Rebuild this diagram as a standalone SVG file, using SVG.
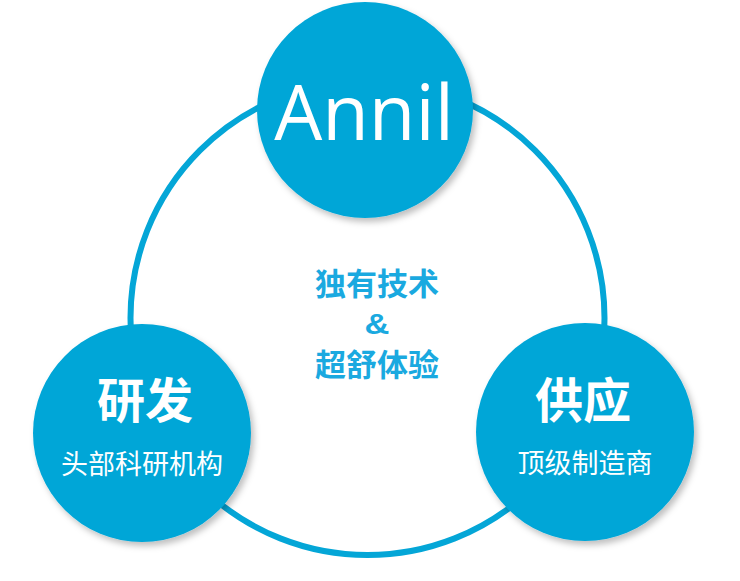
<svg xmlns="http://www.w3.org/2000/svg" width="740" height="581" viewBox="0 0 740 581">
<defs>
<filter id="sh" x="-20%" y="-20%" width="150%" height="150%">
<feDropShadow dx="3" dy="4" stdDeviation="3" flood-color="#000" flood-opacity="0.25"/>
</filter>
<style>
.node{fill:#04a6d7;filter:url(#sh)}
.ring{fill:none;stroke:#04a6d7;stroke-width:6}
.cjk{font-family:"Noto Sans CJK SC","Noto Sans",sans-serif;text-anchor:middle}
.title{font-size:48px;font-weight:bold;fill:#fff}
.sub{font-size:27px;fill:#fff}
.mid{font-size:31px;font-weight:bold;fill:#1aa9e0}
.amp{font-family:"Liberation Sans",Arial,sans-serif;font-size:30px;font-weight:bold;fill:#1aa9e0;text-anchor:middle}
</style>
</defs>
<rect width="740" height="581" fill="#fff"/>
<g id="connectors">
<circle class="ring" cx="367.5" cy="318" r="237"/>
</g>
<g id="node-annil">
<circle class="node" cx="365" cy="110" r="108"/>
<text x="364" y="140" font-family="'Open Sans','Noto Sans',sans-serif" font-size="76" fill="#fff" text-anchor="middle">Annil</text>
</g>
<g id="node-rd">
<circle class="node" cx="142" cy="433" r="109"/>
<text class="cjk title" x="145" y="418">研发</text>
<text class="cjk sub" x="142" y="474">头部科研机构</text>
</g>
<g id="node-supply">
<circle class="node" cx="585" cy="432" r="109"/>
<text class="cjk title" x="583" y="418">供应</text>
<text class="cjk sub" x="585" y="473">顶级制造商</text>
</g>
<g id="center-text">
<text class="cjk mid" x="377" y="295">独有技术</text>
<text class="amp" x="377" y="334" transform="translate(377 0) scale(1.15 1) translate(-377 0)">&amp;</text>
<text class="cjk mid" x="377" y="376">超舒体验</text>
</g>
</svg>
